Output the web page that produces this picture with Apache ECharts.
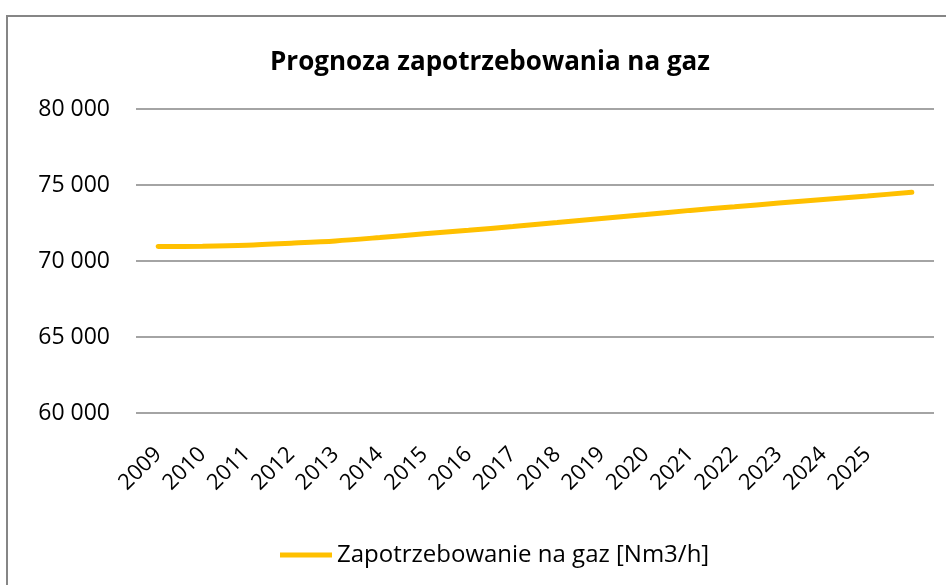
<!DOCTYPE html>
<html>
<head>
<meta charset="utf-8">
<script src="https://cdn.jsdelivr.net/npm/echarts@6/dist/echarts.min.js"></script>
<style>html,body{margin:0;padding:0;background:#fff;}#c{width:946px;height:585px;}</style>
</head>
<body>
<div id="c"></div>
<script>
var years = ['2009','2010','2011','2012','2013','2014','2015','2016','2017','2018','2019','2020','2021','2022','2023','2024','2025',''];
var demand = [70950,70975,71040,71170,71320,71545,71790,72020,72270,72530,72800,73060,73330,73570,73810,74050,74280,74520];
var yTicks = [60000,65000,70000,75000,80000];
var titleText = 'Prognoza zapotrzebowania na gaz';
var seriesName = 'Zapotrzebowanie na gaz [Nm3/h]';

var chart = echarts.init(document.getElementById('c'), null, {renderer:'canvas'});
var font = 'Open Sans';
chart.setOption({
  backgroundColor:'#fff',
  animation:false,
  graphic:[{type:'rect', shape:{x:7,y:16,width:960,height:600}, style:{fill:'none', stroke:'#868686', lineWidth:2}, silent:true}],
  title:{text:titleText, left:485, top:45, textAlign:'center',
    textStyle:{fontFamily:font, fontWeight:'bold', fontSize:26, color:'#000'}},
  grid:{left:136, right:12, top:109, bottom:172},
  legend:{data:[seriesName], left:275, top:538, icon:'rect', itemWidth:52, itemHeight:5, itemGap:5,
    textStyle:{fontFamily:font, fontSize:24, color:'#000'}},
  xAxis:{type:'category', data:years, boundaryGap:true,
    axisLine:{show:false}, axisTick:{show:false},
    axisLabel:{rotate:45, interval:0, margin:38, fontFamily:font, fontSize:22, color:'#000'}},
  yAxis:{type:'value', min:yTicks[0], max:yTicks[yTicks.length-1], interval:5000,
    axisLine:{show:false}, axisTick:{show:false},
    splitLine:{lineStyle:{color:'#868686', width:1.5}},
    axisLabel:{margin:26, fontFamily:font, fontSize:23, color:'#000',
      formatter:function(v){return String(v).replace(/\B(?=(\d{3})+(?!\d))/g,' ');}}},
  series:[{name:seriesName, type:'line', data:demand, smooth:0.3, showSymbol:false, symbol:'none',
    lineStyle:{color:'#FFC000', width:5, cap:'round'}, itemStyle:{color:'#FFC000'}}]
});
</script>
</body>
</html>
